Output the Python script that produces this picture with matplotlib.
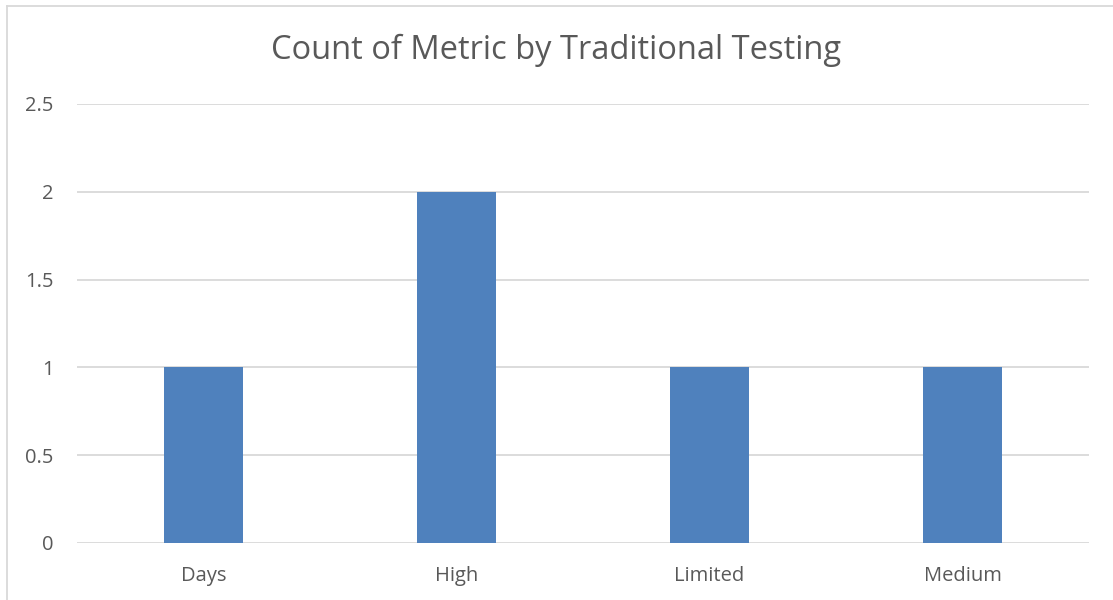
import matplotlib
matplotlib.use('Agg')
import matplotlib.pyplot as plt
from matplotlib.lines import Line2D

# Dados do gráfico
categories = ['Days', 'High', 'Limited', 'Medium']
counts = [1, 2, 1, 1]
y_ticks = [0, 0.5, 1, 1.5, 2, 2.5]
y_tick_labels = ['0', '0.5', '1', '1.5', '2', '2.5']
title = 'Count of Metric by Traditional Testing'

plt.rcParams['font.family'] = ['Open Sans', 'DejaVu Sans']
text_color = '#595959'
grid_color = '#d9d9d9'
bar_color = '#4f81bd'

W, H = 1113, 600
fig = plt.figure(figsize=(W / 100, H / 100), dpi=100)

# área do gráfico em pixels
left, right, top, bottom = 77, 1089, 104, 543
ax = fig.add_axes([left / W, 1 - bottom / H, (right - left) / W, (bottom - top) / H])

x = list(range(len(categories)))
ax.bar(x, counts, width=0.31, color=bar_color, zorder=3)

ax.set_xlim(-0.5, len(categories) - 0.5)
ax.set_ylim(0, 2.5)
ax.set_yticks(y_ticks)
ax.set_yticklabels(y_tick_labels)
ax.set_xticks(x)
ax.set_xticklabels(categories)

for y in y_ticks:
    ax.axhline(y, color=grid_color, linewidth=1.3, zorder=1)

for s in ax.spines.values():
    s.set_visible(False)
ax.tick_params(axis='both', length=0, colors=text_color, labelsize=14.5)
ax.tick_params(axis='y', pad=17)
ax.tick_params(axis='x', pad=16.5)

fig.text(0.5, 1 - 50 / H, title, ha='center', va='center', fontsize=23.5, color=text_color)

# moldura do gráfico (cortada à direita e embaixo)
fig.add_artist(Line2D([6.5 / W, 6.5 / W], [0, 1 - 6 / H], transform=fig.transFigure,
                      color=grid_color, linewidth=1.3))
fig.add_artist(Line2D([6.5 / W, 1], [1 - 6 / H, 1 - 6 / H], transform=fig.transFigure,
                      color=grid_color, linewidth=1.3))

fig.savefig('out.png', dpi=100, facecolor='white')
